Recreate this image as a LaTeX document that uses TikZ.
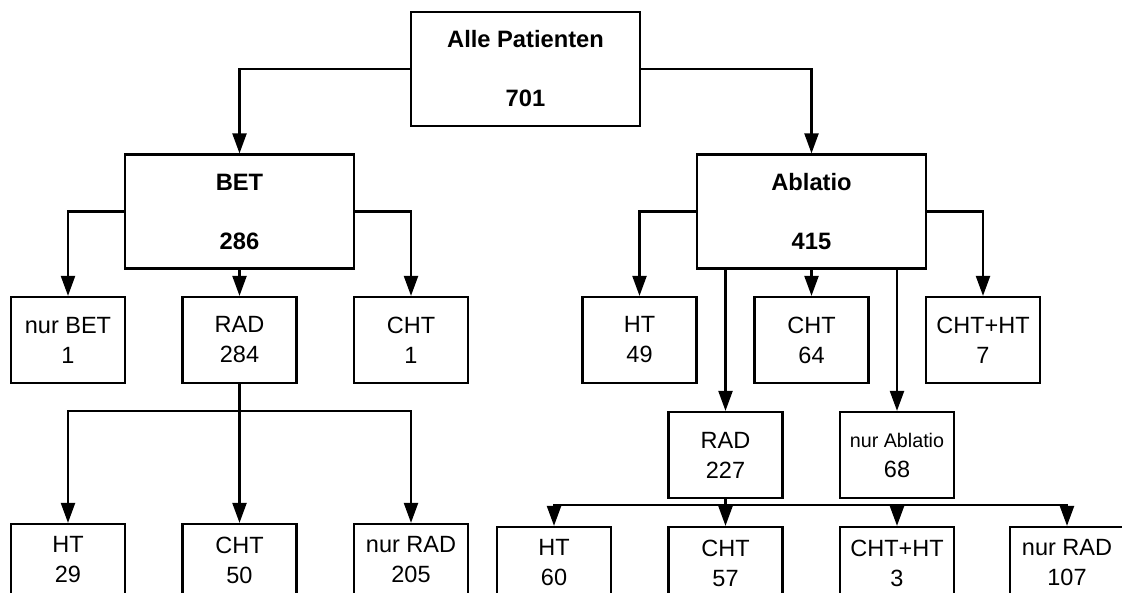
\documentclass[tikz,border=0pt]{standalone}
\usepackage{fontspec}
\setmainfont{Liberation Sans}
\usetikzlibrary{arrows.meta}
\begin{document}
\begin{tikzpicture}[x=1pt,y=-1pt,
  box/.style={draw, line width=2.2pt, inner sep=0pt, align=center, font=\fontsize{23.5}{30}\selectfont},
  bigbox/.style={box, minimum width=229pt, minimum height=114pt, font=\bfseries\fontsize{23.7}{59}\selectfont},
  small/.style={box, minimum width=114pt, minimum height=86pt},
  low/.style={box, minimum width=114pt, minimum height=72pt},
  conn/.style={line width=2.2pt},
  arr/.style={conn, -{Triangle[width=14pt,length=20pt]}}]
\useasboundingbox (0,0) rectangle (1122,593);
\clip (0,0) rectangle (1122,593);
% top
\node[bigbox] (all) at (525.5,69) {Alle Patienten\\701};
\node[bigbox] (bet) at (239.5,211.5) {BET\\286};
\node[bigbox] (abl) at (811.5,211.5) {Ablatio\\415};
% second row
\node[small] (nurbet) at (68,340) {nur BET\\1};
\node[small] (rad1) at (239.5,340) {RAD\\284};
\node[small] (cht1) at (411,340) {CHT\\1};
\node[small] (ht2) at (639.5,340) {HT\\49};
\node[small] (cht2) at (811.5,340) {CHT\\64};
\node[small] (chtht2) at (983,340) {CHT+HT\\7};
\node[small] (rad2) at (725.5,455) {RAD\\227};
\node[small] (nurabl) at (897,455) {{\fontsize{19.7}{30}\selectfont nur Ablatio}\\68};
% bottom left
\node[low] (ht3) at (68,560) {HT\\29};
\node[low] (cht3) at (239.5,560) {CHT\\50};
\node[low] (nurrad3) at (411,560) {nur RAD\\205};
% bottom right
\node[low] (ht4) at (554,563) {HT\\60};
\node[low] (cht4) at (725.5,563) {CHT\\57};
\node[low] (chtht4) at (897,563) {CHT+HT\\3};
\node[low] (nurrad4) at (1067,563) {nur RAD\\107};
% connectors
\draw[arr] (all.west) -| (bet.north);
\draw[arr] (all.east) -| (abl.north);
\draw[arr] (bet.west) -| (nurbet.north);
\draw[arr] (bet.east) -| (cht1.north);
\draw[arr] (bet.south) -- (rad1.north);
\draw[arr] (abl.west) -| (ht2.north);
\draw[arr] (abl.east) -| (chtht2.north);
\draw[arr] (abl.south) -- (cht2.north);
\draw[arr] (abl.south -| rad2.north) -- (rad2.north);
\draw[arr] (abl.south -| nurabl.north) -- (nurabl.north);
\coordinate (j1) at (239.5,411);
\draw[conn] (rad1.south) -- (j1);
\draw[arr] (j1) -| (ht3.north);
\draw[arr] (j1) -- (cht3.north);
\draw[arr] (j1) -| (nurrad3.north);
\coordinate (j2) at (725.5,505);
\draw[conn] (rad2.south) -- (j2);
\draw[arr] (j2) -| (ht4.north);
\draw[arr] (j2) -- (cht4.north);
\draw[arr] (j2) -| (chtht4.north);
\draw[arr] (j2) -| (nurrad4.north);
\end{tikzpicture}
\end{document}
